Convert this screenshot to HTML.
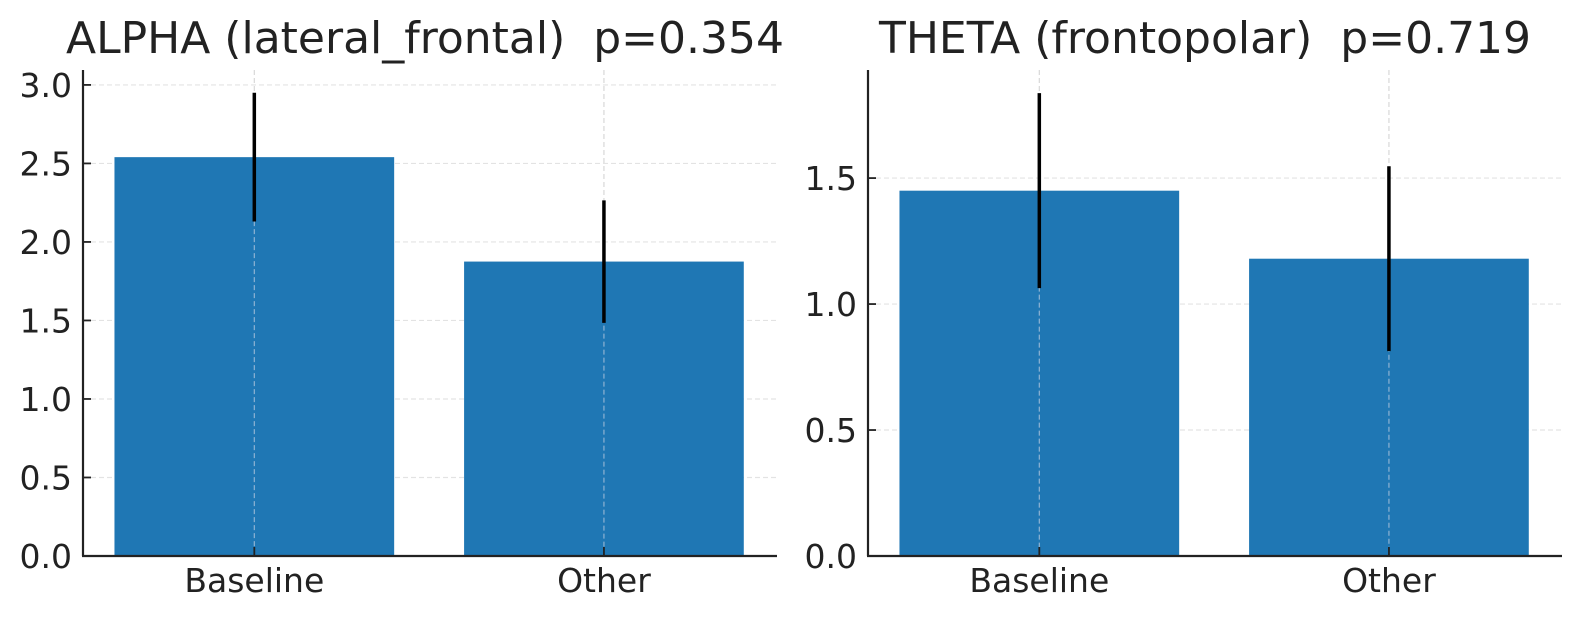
<!DOCTYPE html>
<html><head><meta charset="utf-8"><style>
body{margin:0;background:#fff;}
svg text{font-family:"DejaVu Sans","Liberation Sans",sans-serif;fill:#222;white-space:pre;}
</style></head><body>
<svg id="chart" width="1579" height="619" xmlns="http://www.w3.org/2000/svg"></svg>
<script>
const categories = ["Baseline", "Other"];
const alphaValues = [2.54, 1.875];
const alphaErrors = [0.41, 0.39];
const thetaValues = [1.45, 1.18];
const thetaErrors = [0.387, 0.367];
const alphaTicks = [0.0, 0.5, 1.0, 1.5, 2.0, 2.5, 3.0];
const thetaTicks = [0.0, 0.5, 1.0, 1.5];
const titles = ["ALPHA (lateral_frontal)  p=0.354", "THETA (frontopolar)  p=0.719"];

const NS = "http://www.w3.org/2000/svg";
const svg = document.getElementById("chart");
function mk(tag, attrs, parent){
  const e = document.createElementNS(NS, tag);
  for (const k in attrs) e.setAttribute(k, attrs[k]);
  (parent||svg).appendChild(e);
  return e;
}
function panel(cfg){
  const g = mk("g", {});
  
  
  const x0 = cfg.left, x1 = cfg.right, yb = 556, yt = 70;
  const ymax = cfg.ymax;
  const sy = v => yb - v / ymax * (yb - yt);
  const sx = v => x0 + (v + 0.49) / 1.985 * (x1 - x0);
  cfg.ticks.forEach(t => {
    const l = mk("line", {x1:x0, x2:x1, y1:sy(t), y2:sy(t), stroke:"#e3e3e3", "stroke-width":1.2, "stroke-dasharray":"5,3"}, g);
    
    
  });
  categories.forEach((c, i) => {
    const l = mk("line", {x1:sx(i), x2:sx(i), y1:yt, y2:yb, stroke:"#d8d8d8", "stroke-width":1.2, "stroke-dasharray":"5,3"}, g);
    
    
  });
  categories.forEach((c, i) => {
    const v = cfg.values[i], e = cfg.errors[i];
    const r = mk("rect", {x:sx(i - 0.4), y:sy(v), width:sx(i + 0.4) - sx(i - 0.4), height:yb - sy(v), fill:"#1f77b4"}, g);
    
    
    const gl = mk("line", {x1:sx(i), x2:sx(i), y1:sy(v), y2:yb, stroke:"#8fb3d3", "stroke-width":1.2, "stroke-dasharray":"5,3"}, g);
    
    
    const eb = mk("line", {x1:sx(i), x2:sx(i), y1:sy(v + e), y2:sy(v - e), stroke:"#000", "stroke-width":3.5}, g);
    
    
    const tk = mk("line", {x1:sx(i), x2:sx(i), y1:yb, y2:yb - 9, stroke:"#222", "stroke-width":1.8}, g);
    
    
    const tl = mk("text", {x:sx(i), y:592, "text-anchor":"middle", "font-size":33}, g);
    tl.textContent = c;
    
    
  });
  cfg.ticks.forEach(t => {
    const tk = mk("line", {x1:x0, x2:x0 + 8, y1:sy(t), y2:sy(t), stroke:"#222", "stroke-width":1.8}, g);
    
    
    const tl = mk("text", {x:x0 - 11, y:sy(t) + 12, "text-anchor":"end", "font-size":33}, g);
    tl.textContent = t.toFixed(1);
    
    
  });
  const ay = mk("line", {x1:x0, x2:x0, y1:yt, y2:yb, stroke:"#222", "stroke-width":2.2}, g);
  
  
  const ax = mk("line", {x1:x0 - 1, x2:x1, y1:yb, y2:yb, stroke:"#222", "stroke-width":2.2}, g);
  
  
  const ti = mk("text", {x:cfg.titleX, y:53, "text-anchor":"middle", "font-size":44, fill:"#333"}, g);
  ti.textContent = cfg.title;
  
  
}
panel({name:"alpha-panel", left:83, right:777, ymax:3.095, ticks:alphaTicks, values:alphaValues, errors:alphaErrors, title:titles[0], titleX:425});
panel({name:"theta-panel", left:868, right:1562, ymax:1.929, ticks:thetaTicks, values:thetaValues, errors:thetaErrors, title:titles[1], titleX:1205});
</script>
</body></html>
